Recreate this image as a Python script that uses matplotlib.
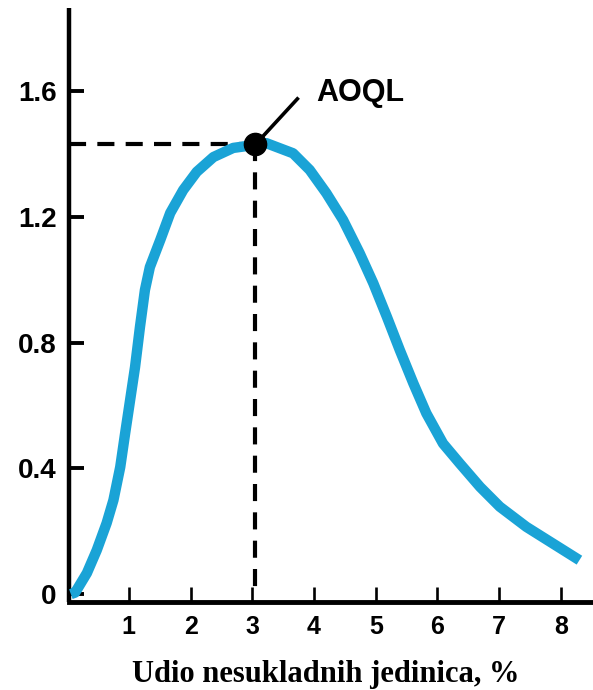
import matplotlib
matplotlib.use("Agg")
import matplotlib.pyplot as plt

# Data
p_percent = [0.06, 0.13, 0.32, 0.48, 0.64, 0.75, 0.86, 0.94, 1.02, 1.10, 1.18,
             1.26, 1.34, 1.51, 1.67, 1.88, 2.10, 2.37, 2.69, 3.02, 3.23, 3.66,
             3.93, 4.20, 4.47, 4.74, 4.96, 5.18, 5.39, 5.61, 5.82, 6.09, 6.36,
             6.69, 7.01, 7.44, 7.87, 8.30]
aoq = [0.0, 0.005, 0.067, 0.14, 0.226, 0.299, 0.404, 0.512, 0.617, 0.722, 0.85,
       0.967, 1.04, 1.127, 1.212, 1.285, 1.343, 1.39, 1.419, 1.428, 1.434, 1.402,
       1.349, 1.275, 1.19, 1.084, 0.989, 0.882, 0.776, 0.670, 0.575, 0.479, 0.416,
       0.341, 0.278, 0.214, 0.161, 0.108]
aoql_x = 3.05
aoql_y = 1.43
aoql_label = "AOQL"
x_ticks = [1, 2, 3, 4, 5, 6, 7, 8]
y_ticks = [0, 0.4, 0.8, 1.2, 1.6]
y_tick_labels = ["0", "0.4", "0.8", "1.2", "1.6"]
x_label = "Udio nesukladnih jedinica, %"

fig = plt.figure(figsize=(5.93, 6.90), dpi=100)
ax = fig.add_axes([69 / 593, 88 / 690, 1 - 69 / 593, (602 - 8) / 690])

ax.plot(p_percent, aoq, color="#1AA3D6", lw=7.5, solid_capstyle="butt",
        solid_joinstyle="round", zorder=3)

# dashed guide lines
ax.plot([0.03, aoql_x], [aoql_y, aoql_y], color="black", lw=3,
        dashes=(4.1, 2.7), zorder=2)
ax.plot([aoql_x, aoql_x], [aoql_y, 0.01], color="black", lw=3,
        dashes=(4.1, 2.7), zorder=2)
ax.plot([aoql_x], [aoql_y], "o", color="black", ms=16, zorder=5)

# leader line and label
ax.plot([aoql_x, 3.73], [aoql_y, 1.575], color="black", lw=2.6, zorder=4)
ax.text(4.03, 1.595, aoql_label, fontsize=22, fontweight="bold",
        family="Liberation Sans", va="center", ha="left")

ax.set_xlim(0.03, 8.52)
ax.set_ylim(-0.025, 1.864)
ax.set_xticks(x_ticks)
ax.set_xticklabels([str(t) for t in x_ticks])
ax.set_yticks(y_ticks)
ax.set_yticklabels(y_tick_labels)

for s in ["top", "right"]:
    ax.spines[s].set_visible(False)
ax.spines["left"].set_linewidth(3.2)
ax.spines["bottom"].set_linewidth(3.5)
ax.spines["left"].set_capstyle("butt")

ax.tick_params(axis="x", direction="in", length=11, width=1.9, pad=9,
               labelsize=18)
ax.tick_params(axis="y", direction="in", length=11, width=2.8, pad=9,
               labelsize=20)
for lab in ax.get_xticklabels() + ax.get_yticklabels():
    lab.set_fontweight("bold")
    lab.set_family("Liberation Sans")

fig.text(326 / 593, (690 - 682) / 690, x_label, ha="center", va="baseline",
         fontsize=22, fontweight="bold", family="Liberation Serif")

fig.savefig("out.png", dpi=100)
